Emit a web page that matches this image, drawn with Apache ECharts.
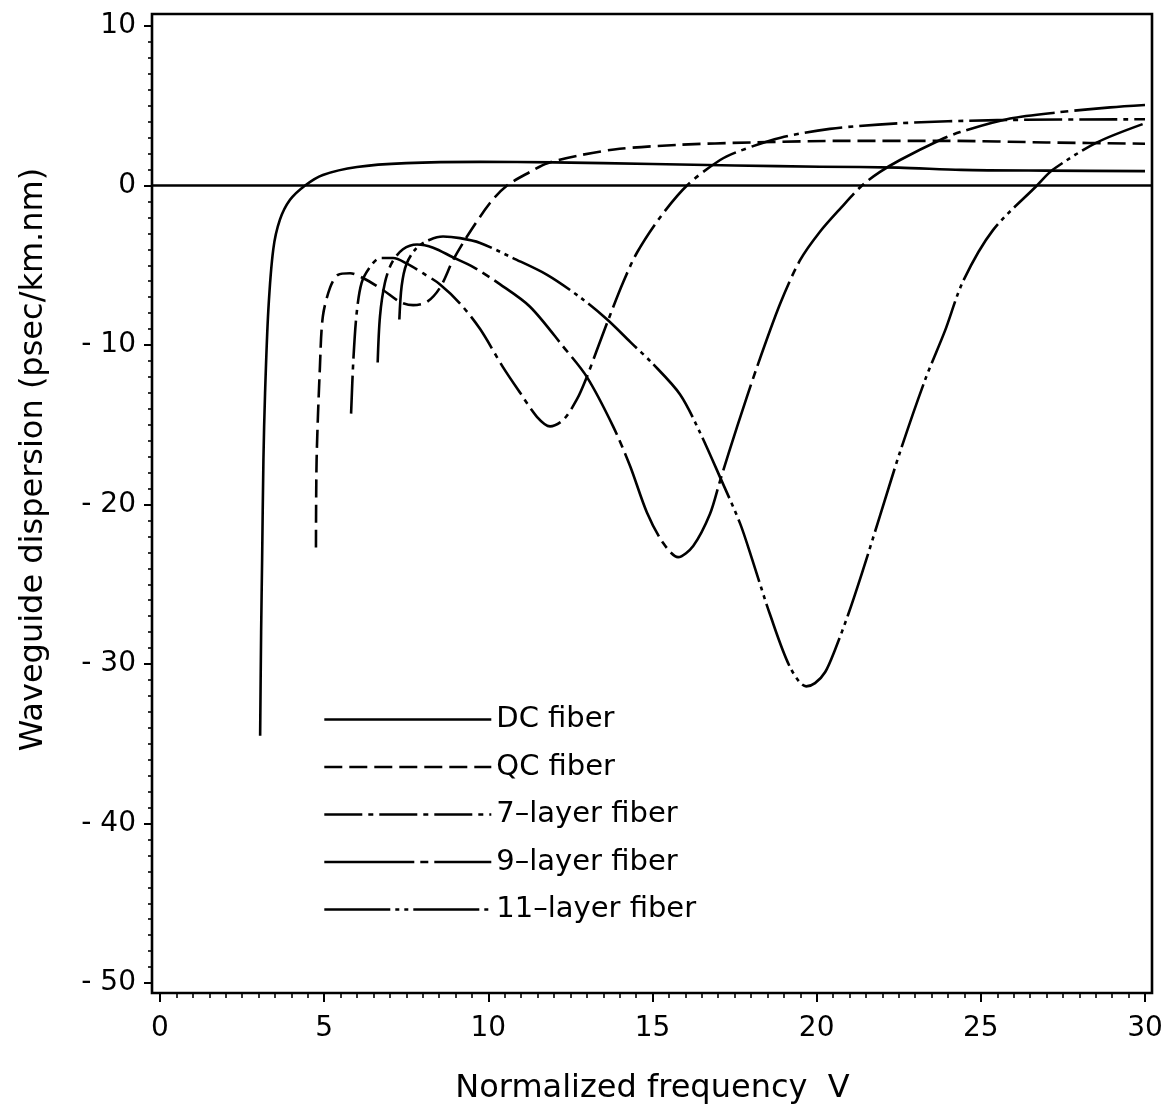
<!DOCTYPE html>
<html>
<head>
<meta charset="utf-8">
<script src="https://cdn.jsdelivr.net/npm/echarts@6/dist/echarts.min.js"></script>
<style>
html,body{margin:0;padding:0;background:#fff;}
#chart{width:1176px;height:1118px;}
</style>
</head>
<body>
<div id="chart"></div>
<script>
// ---- data ----
const seriesNames = ['DC fiber', 'QC fiber', '7\u2013layer fiber', '9\u2013layer fiber', '11\u2013layer fiber'];

const dcV = [3.05, 3.08, 3.11, 3.15, 3.2, 3.3, 3.45, 3.65, 3.96, 4.42, 4.96, 6.0, 7.5, 9.75, 12, 15, 17.5, 20.1, 22.5, 24.4, 27, 30];
const dcD = [-34.5, -28, -23.5, -17.2, -13.0, -7.8, -4.0, -2.16, -0.9, 0, 0.66, 1.16, 1.4, 1.48, 1.45, 1.35, 1.25, 1.18, 1.12, 0.98, 0.93, 0.9];

const qcV = [4.75, 4.77, 4.87, 4.96, 5.18, 5.42, 5.79, 6.18, 6.79, 7.31, 7.71, 8.13, 8.53, 8.92, 9.35, 10.05, 10.57, 11.27, 11.8, 12.8, 14, 15.8, 18, 21, 24, 27, 30];
const qcD = [-22.7, -17.2, -11.4, -8.2, -6.4, -5.6, -5.5, -5.8, -6.55, -7.3, -7.5, -7.3, -6.4, -4.7, -3.2, -1.1, 0, 0.85, 1.4, 1.9, 2.3, 2.55, 2.7, 2.8, 2.8, 2.7, 2.62];

const l7V = [5.82, 5.89, 5.99, 6.14, 6.4, 6.7, 7.1, 7.52, 8.01, 8.53, 9.14, 9.75, 10.45, 10.97, 11.48, 11.88, 12.28, 12.7, 13.0, 13.31, 13.62, 14.1, 14.53, 15.23, 16.05, 17.06, 17.7, 18.9, 20.4, 22.5, 25.5, 30];
const l7D = [-14.3, -10.9, -8.0, -6.1, -5.1, -4.55, -4.55, -4.9, -5.5, -6.2, -7.4, -9.0, -11.4, -13.0, -14.5, -15.1, -14.7, -13.4, -12.0, -10.3, -8.6, -6.1, -4.2, -2.0, 0, 1.6, 2.2, 3.0, 3.55, 3.9, 4.1, 4.15];

const l9V = [6.63, 6.7, 6.85, 7.06, 7.4, 7.83, 8.32, 8.92, 9.53, 10.36, 11.27, 12.28, 13.0, 13.8, 14.32, 14.83, 15.32, 15.78, 16.24, 16.75, 17.06, 17.58, 18.18, 18.89, 19.49, 20.1, 20.74, 21.38, 21.93, 22.54, 23.76, 24.37, 25.89, 27.41, 28.94, 30];
const l9D = [-11.1, -8.2, -6.1, -4.85, -4.0, -3.7, -3.9, -4.5, -5.1, -6.2, -7.6, -10.1, -12.0, -15.1, -17.6, -20.5, -22.4, -23.3, -22.6, -20.6, -18.5, -15.1, -11.4, -7.4, -4.7, -2.9, -1.4, 0, 0.85, 1.6, 2.85, 3.35, 4.2, 4.6, 4.9, 5.05];

const l11V = [7.29, 7.36, 7.51, 7.82, 8.22, 8.62, 9.14, 9.75, 10.75, 11.79, 12.79, 13.62, 14.32, 15.02, 15.84, 16.45, 17.06, 17.67, 18.06, 18.58, 19.19, 19.68, 19.95, 20.26, 20.56, 20.96, 21.38, 21.93, 22.54, 23.3, 23.91, 24.46, 25.37, 26.71, 27.2, 28.54, 30];
const l11D = [-8.4, -6.3, -4.9, -3.9, -3.4, -3.2, -3.3, -3.6, -4.55, -5.6, -7.0, -8.4, -9.8, -11.2, -13.1, -15.5, -18.3, -21.2, -23.6, -26.9, -30.2, -31.4, -31.2, -30.5, -29.1, -26.9, -24.3, -20.7, -16.7, -12.2, -9.1, -6.0, -2.8, 0, 1.0, 2.7, 3.9];

const xTicks = ['0', '5', '10', '15', '20', '25', '30'];
const yTicks = ['10', '0', '- 10', '- 20', '- 30', '- 40', '- 50'];

// ---- chart ----
const FONT = 'DejaVu Sans';
function pairs(v, d) { return v.map((x, i) => [x, d[i]]); }

const dashes = [
  'solid',
  [18, 7],
  [38, 6, 5, 6],
  [90, 6, 8, 6],
  [66, 5, 4, 5, 4, 5]
];
const seriesData = [pairs(dcV, dcD), pairs(qcV, qcD), pairs(l7V, l7D), pairs(l9V, l9D), pairs(l11V, l11D)];

const series = seriesNames.map((n, i) => ({
  name: n,
  type: 'line',
  xAxisIndex: 0,
  yAxisIndex: 0,
  data: seriesData[i],
  symbol: 'none',
  smooth: 0.3,
  silent: true,
  lineStyle: { color: '#000', width: 2.6, type: dashes[i], cap: 'butt', join: 'round' },
  itemStyle: { color: '#000' },
  z: 3
}));

// zero reference line spanning the whole frame
series.push({
  name: 'zero',
  type: 'line',
  xAxisIndex: 1,
  yAxisIndex: 1,
  data: [],
  symbol: 'none',
  silent: true,
  markLine: {
    silent: true,
    symbol: ['none', 'none'],
    label: { show: false },
    lineStyle: { color: '#000', width: 2.6, type: 'solid' },
    data: [{ yAxis: 0 }]
  }
});

const chart = echarts.init(document.getElementById('chart'), null, { renderer: 'canvas' });
chart.setOption({
  backgroundColor: '#fff',
  animation: false,
  textStyle: { fontFamily: FONT, color: '#000' },
  grid: [
    { left: 160, right: 31, top: 26, bottom: 135, show: false },
    { left: 152, right: 24, top: 14, bottom: 125, show: true, borderColor: '#000', borderWidth: 2.6, backgroundColor: 'transparent', z: 0 }
  ],
  legend: {
    data: seriesNames,
    orient: 'vertical',
    left: 318,
    top: 700,
    itemWidth: 167,
    itemHeight: 14,
    itemGap: 18.5,
    selectedMode: false,
    itemStyle: { opacity: 0 },
    lineStyle: { width: 2.6 },
    textStyle: { fontFamily: FONT, fontSize: 29, color: '#000' }
  },
  xAxis: [
    {
      gridIndex: 0, type: 'value', min: 0, max: 30, interval: 5, offset: 10,
      name: 'Normalized frequency  V', nameLocation: 'middle', nameGap: 80,
      nameTextStyle: { fontFamily: FONT, fontSize: 32, color: '#000' },
      axisLine: { show: false, onZero: false },
      axisTick: { show: true, length: 9, inside: false, lineStyle: { color: '#000', width: 2 } },
      minorTick: { show: true, splitNumber: 10, length: 5, lineStyle: { color: '#000', width: 1.6 } },
      splitLine: { show: false },
      axisLabel: { fontFamily: FONT, fontSize: 28, color: '#000', margin: 22,
        formatter: v => xTicks[Math.round(v / 5)] }
    },
    { gridIndex: 1, type: 'value', min: 0, max: 1, show: false }
  ],
  yAxis: [
    {
      gridIndex: 0, type: 'value', min: -50, max: 10, interval: 10, offset: 8,
      name: 'Waveguide dispersion (psec/km.nm)', nameLocation: 'middle', nameGap: 102,
      nameTextStyle: { fontFamily: FONT, fontSize: 32, color: '#000', padding: [0, 0, 0, 90] },
      axisLine: { show: false, onZero: false },
      axisTick: { show: true, length: 8, inside: false, lineStyle: { color: '#000', width: 2 } },
      minorTick: { show: true, splitNumber: 10, length: 4, lineStyle: { color: '#000', width: 1.6 } },
      splitLine: { show: false },
      axisLabel: { fontFamily: FONT, fontSize: 28, color: '#000', margin: 16,
        formatter: v => yTicks[Math.round((10 - v) / 10)] }
    },
    { gridIndex: 1, type: 'value', min: -50.61, max: 10.75, show: false }
  ],
  series: series
});
</script>
</body>
</html>
